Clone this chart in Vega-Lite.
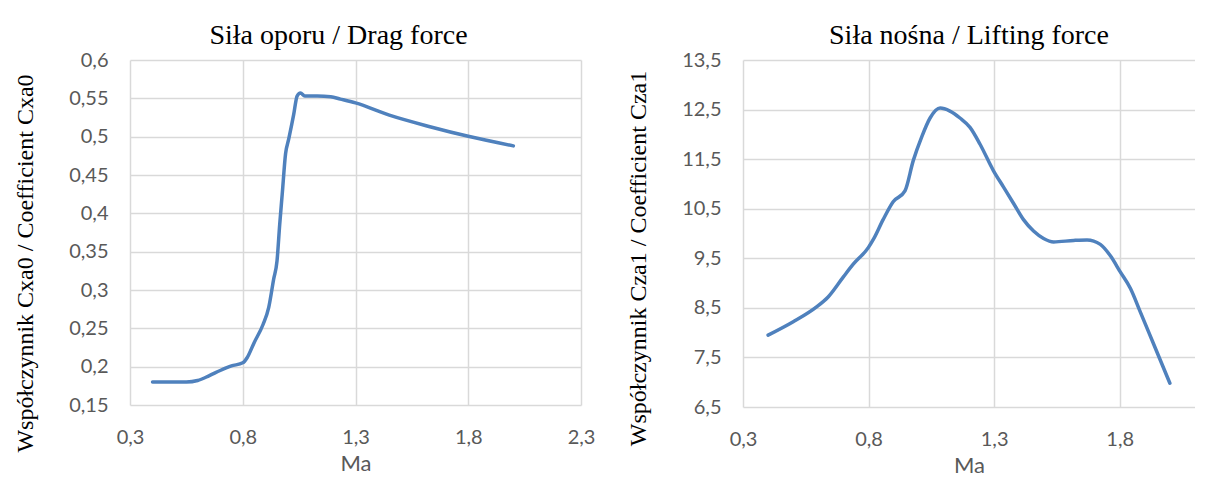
{
  "$schema": "https://vega.github.io/schema/vega-lite/v6.json",
  "background": "white",
  "padding": {"left": 13, "top": 22, "right": 0, "bottom": 0},
  "spacing": 31,
  "config": {
    "view": {"stroke": null},
    "axis": {
      "labelFont": "Lato",
      "labelFontSize": 20,
      "labelColor": "#595959",
      "labelPadding": 22,
      "labelFlush": false,
      "labelOverlap": false,
      "grid": true,
      "gridColor": "#d9d9d9",
      "gridWidth": 1.5,
      "domain": false,
      "ticks": false
    },
    "title": {"font": "Liberation Serif", "fontSize": 28, "fontWeight": "normal", "color": "#000000", "anchor": "middle"}
  },
  "datasets": {
    "drag": [
      {"Ma": 0.40, "C": 0.180},
      {"Ma": 0.50, "C": 0.180},
      {"Ma": 0.55, "C": 0.180},
      {"Ma": 0.60, "C": 0.182},
      {"Ma": 0.65, "C": 0.188},
      {"Ma": 0.70, "C": 0.195},
      {"Ma": 0.75, "C": 0.201},
      {"Ma": 0.80, "C": 0.205},
      {"Ma": 0.82, "C": 0.212},
      {"Ma": 0.85, "C": 0.231},
      {"Ma": 0.89, "C": 0.255},
      {"Ma": 0.915, "C": 0.277},
      {"Ma": 0.937, "C": 0.314},
      {"Ma": 0.952, "C": 0.338},
      {"Ma": 0.964, "C": 0.386},
      {"Ma": 0.975, "C": 0.425},
      {"Ma": 0.99, "C": 0.478},
      {"Ma": 1.004, "C": 0.497},
      {"Ma": 1.026, "C": 0.529},
      {"Ma": 1.041, "C": 0.553},
      {"Ma": 1.056, "C": 0.557},
      {"Ma": 1.075, "C": 0.553},
      {"Ma": 1.13, "C": 0.553},
      {"Ma": 1.19, "C": 0.552},
      {"Ma": 1.233, "C": 0.549},
      {"Ma": 1.30, "C": 0.544},
      {"Ma": 1.45, "C": 0.528},
      {"Ma": 1.63, "C": 0.513},
      {"Ma": 1.80, "C": 0.5005},
      {"Ma": 2.00, "C": 0.488}
    ],
    "lift": [
      {"Ma": 0.40, "C": 7.95},
      {"Ma": 0.50, "C": 8.22},
      {"Ma": 0.593, "C": 8.52},
      {"Ma": 0.639, "C": 8.72},
      {"Ma": 0.699, "C": 9.12},
      {"Ma": 0.739, "C": 9.38},
      {"Ma": 0.799, "C": 9.715},
      {"Ma": 0.819, "C": 9.88},
      {"Ma": 0.858, "C": 10.28},
      {"Ma": 0.898, "C": 10.64},
      {"Ma": 0.945, "C": 10.86},
      {"Ma": 0.978, "C": 11.47},
      {"Ma": 1.011, "C": 11.94},
      {"Ma": 1.045, "C": 12.33},
      {"Ma": 1.085, "C": 12.53},
      {"Ma": 1.124, "C": 12.47},
      {"Ma": 1.164, "C": 12.33},
      {"Ma": 1.204, "C": 12.14},
      {"Ma": 1.244, "C": 11.80},
      {"Ma": 1.297, "C": 11.27},
      {"Ma": 1.337, "C": 10.94},
      {"Ma": 1.377, "C": 10.61},
      {"Ma": 1.417, "C": 10.28},
      {"Ma": 1.457, "C": 10.05},
      {"Ma": 1.497, "C": 9.90},
      {"Ma": 1.537, "C": 9.83},
      {"Ma": 1.617, "C": 9.86},
      {"Ma": 1.67, "C": 9.87},
      {"Ma": 1.723, "C": 9.78},
      {"Ma": 1.763, "C": 9.55},
      {"Ma": 1.803, "C": 9.22},
      {"Ma": 1.843, "C": 8.89},
      {"Ma": 1.882, "C": 8.42},
      {"Ma": 1.936, "C": 7.76},
      {"Ma": 2.00, "C": 6.98}
    ]
  },
  "hconcat": [
    {
      "width": 451,
      "height": 345,
      "title": {"text": "Siła oporu / Drag force", "offset": 0, "dx": -17},
      "data": {"name": "drag"},
      "mark": {"type": "line", "interpolate": "monotone", "color": "#4f81bd", "strokeWidth": 3.5, "strokeCap": "round"},
      "encoding": {
        "x": {
          "field": "Ma", "type": "quantitative",
          "scale": {"domain": [0.3, 2.3], "nice": false, "zero": false},
          "axis": {
            "values": [0.3, 0.8, 1.3, 1.8, 2.3],
            "labelExpr": "replace(format(datum.value, '.1f'), '.', ',')",
            "title": "Ma", "titleFont": "Lato", "titleFontSize": 22, "titleFontWeight": "normal", "titleColor": "#595959", "titlePadding": 6
          }
        },
        "y": {
          "field": "C", "type": "quantitative",
          "scale": {"domain": [0.15, 0.6], "nice": false, "zero": false},
          "axis": {
            "values": [0.15, 0.2, 0.25, 0.3, 0.35, 0.4, 0.45, 0.5, 0.55, 0.6],
            "labelExpr": "replace(format(datum.value, '.2~f'), '.', ',')",
            "title": "Współczynnik Cxa0 / Coefficient Cxa0", "titleFont": "Liberation Serif", "titleFontSize": 24, "titleFontWeight": "normal", "titleColor": "#000000", "titlePadding": 31, "titleY": 203
          }
        }
      }
    },
    {
      "width": 452,
      "height": 347,
      "title": {"text": "Siła nośna / Lifting force", "offset": 0},
      "data": {"name": "lift"},
      "mark": {"type": "line", "interpolate": "monotone", "color": "#4f81bd", "strokeWidth": 3.5, "strokeCap": "round"},
      "encoding": {
        "x": {
          "field": "Ma", "type": "quantitative",
          "scale": {"domain": [0.3, 2.1], "nice": false, "zero": false},
          "axis": {
            "values": [0.3, 0.8, 1.3, 1.8],
            "labelExpr": "replace(format(datum.value, '.1f'), '.', ',')",
            "title": "Ma", "titleFont": "Lato", "titleFontSize": 22, "titleFontWeight": "normal", "titleColor": "#595959", "titlePadding": 6
          }
        },
        "y": {
          "field": "C", "type": "quantitative",
          "scale": {"domain": [6.5, 13.5], "nice": false, "zero": false},
          "axis": {
            "values": [6.5, 7.5, 8.5, 9.5, 10.5, 11.5, 12.5, 13.5],
            "labelExpr": "replace(format(datum.value, '.1f'), '.', ',')",
            "title": "Współczynnik Cza1 / Coefficient Cza1", "titleFont": "Liberation Serif", "titleFontSize": 24, "titleFontWeight": "normal", "titleColor": "#000000", "titlePadding": 31, "titleY": 198
          }
        }
      }
    }
  ]
}
